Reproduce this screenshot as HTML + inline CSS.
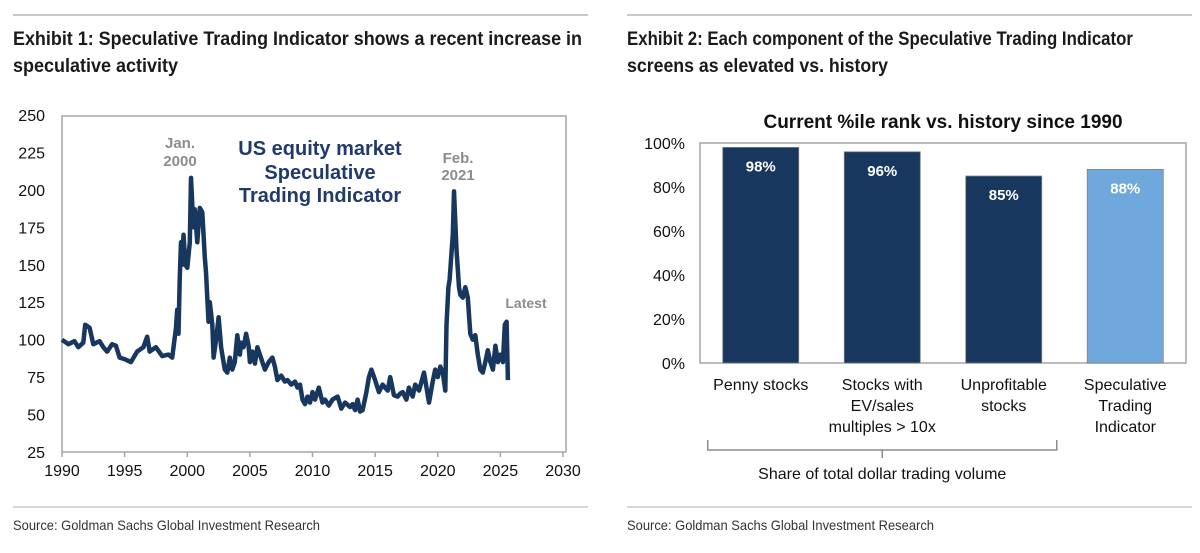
<!DOCTYPE html>
<html><head><meta charset="utf-8"><style>
html,body{margin:0;padding:0;background:#fff;}
svg{display:block;font-family:"Liberation Sans",Arial,sans-serif;}
</style></head><body>
<svg id="root" width="1200" height="553" viewBox="0 0 1200 553">
  <line x1="13" y1="15" x2="588" y2="15" stroke="#c8c8c8" stroke-width="2"/>
  <line x1="627" y1="15" x2="1192" y2="15" stroke="#c8c8c8" stroke-width="2"/>
  <text x="13" y="45" font-size="19" font-weight="bold" fill="#1a1a1a" textLength="569" lengthAdjust="spacingAndGlyphs">Exhibit 1: Speculative Trading Indicator shows a recent increase in</text>
  <text x="13" y="72" font-size="19" font-weight="bold" fill="#1a1a1a" textLength="165" lengthAdjust="spacingAndGlyphs">speculative activity</text>
  <text x="627" y="45" font-size="19" font-weight="bold" fill="#1a1a1a" textLength="506" lengthAdjust="spacingAndGlyphs">Exhibit 2: Each component of the Speculative Trading Indicator</text>
  <text x="627" y="72" font-size="19" font-weight="bold" fill="#1a1a1a" textLength="261" lengthAdjust="spacingAndGlyphs">screens as elevated vs. history</text>
  <line x1="13" y1="507" x2="588" y2="507" stroke="#c8c8c8" stroke-width="1.5"/>
  <line x1="627" y1="507" x2="1192" y2="507" stroke="#c8c8c8" stroke-width="1.5"/>
  <text x="13" y="530" font-size="14" fill="#333" textLength="307" lengthAdjust="spacingAndGlyphs">Source: Goldman Sachs Global Investment Research</text>
  <text x="627" y="530" font-size="14" fill="#333" textLength="307" lengthAdjust="spacingAndGlyphs">Source: Goldman Sachs Global Investment Research</text>

  <g id="lineChart"></g>
  <g id="barChart"></g>
</svg>
<script>
const NS="http://www.w3.org/2000/svg";
function mk(tag,attrs,parent,txt){const e=document.createElementNS(NS,tag);for(const k in attrs)e.setAttribute(k,attrs[k]);if(txt!==undefined)e.textContent=txt;parent.appendChild(e);return e;}

// ---- Exhibit 1 data ----
const years=[1990,1990.5,1991,1991.3,1991.7,1991.85,1992.2,1992.5,1993,1993.3,1993.6,1994,1994.3,1994.6,1995,1995.5,1996,1996.5,1996.8,1997,1997.5,1998,1998.5,1998.8,1999.1,1999.2,1999.3,1999.4,1999.5,1999.6,1999.7,1999.85,2000.0,2000.2,2000.3,2000.4,2000.5,2000.6,2000.8,2001,2001.2,2001.4,2001.5,2001.7,2001.8,2002,2002.1,2002.3,2002.5,2002.7,2002.8,2003,2003.2,2003.4,2003.6,2003.8,2004,2004.2,2004.3,2004.5,2004.7,2004.9,2005,2005.2,2005.4,2005.6,2006,2006.2,2006.5,2006.8,2007,2007.2,2007.5,2007.8,2008,2008.3,2008.6,2008.8,2009,2009.2,2009.4,2009.6,2009.8,2010,2010.2,2010.5,2010.8,2011,2011.3,2011.6,2012,2012.3,2012.6,2013,2013.2,2013.4,2013.6,2013.8,2014,2014.3,2014.5,2014.7,2015,2015.3,2015.6,2016,2016.2,2016.5,2016.8,2017,2017.2,2017.5,2017.7,2018,2018.2,2018.5,2018.7,2018.9,2019.1,2019.3,2019.6,2019.8,2020,2020.2,2020.4,2020.6,2020.7,2020.85,2020.95,2021.2,2021.3,2021.5,2021.7,2021.8,2022,2022.2,2022.4,2022.6,2022.8,2023,2023.2,2023.4,2023.6,2023.8,2024,2024.2,2024.4,2024.6,2024.8,2025.0,2025.2,2025.35,2025.5,2025.6];
const values=[100,97,99,95,98,110,108,97,99,95,92,97,96,88,87,85,92,95,102,92,95,89,90,88,108,120,104,140,165,150,170,150,148,165,208,190,175,187,165,188,185,155,145,112,125,110,88,100,115,95,90,80,78,88,80,85,103,90,98,95,104,96,85,92,84,95,85,80,85,88,82,73,76,72,73,70,72,68,70,60,57,62,58,65,60,68,58,60,56,60,62,54,58,55,57,53,60,52,53,65,75,80,73,65,70,66,75,63,62,64,65,60,68,62,70,66,72,78,68,58,72,80,75,82,78,66,110,135,140,170,199,160,135,130,128,135,128,104,100,103,90,80,78,85,93,85,80,96,85,90,85,110,112,73,110,113];
const yTicks=[25,50,75,100,125,150,175,200,225,250];
const xTicks=[1990,1995,2000,2005,2010,2015,2020,2025,2030];

const L={x0:62,x1:563,y0:452,y1:115};
const lx=v=>L.x0+(v-1990)/40*(L.x1-L.x0);
const ly=v=>L.y0-(v-25)/225*(L.y0-L.y1);
const lg=document.getElementById('lineChart');
const frame=mk('rect',{x:L.x0,y:116,width:566-L.x0,height:L.y0-116,fill:'none',stroke:'#a6a6a6','stroke-width':1.5},lg);


yTicks.forEach(t=>{
  const tx=mk('text',{x:45,y:ly(t)+6,'font-size':16,'text-anchor':'end',fill:'#111'},lg,String(t));
  
  
});
xTicks.forEach(t=>{
  const tk=mk('line',{x1:lx(t),x2:lx(t),y1:L.y0,y2:L.y0+5,stroke:'#a6a6a6','stroke-width':1.5},lg);
  
  
  const tx=mk('text',{x:lx(t),y:476,'font-size':16,'text-anchor':'middle',fill:'#111'},lg,String(t));
  
  
});
let d='';years.forEach((y,i)=>{d+=(i?'L':'M')+lx(y).toFixed(1)+','+ly(values[i]).toFixed(1);});
const path=mk('path',{d:d,fill:'none',stroke:'#17375e','stroke-width':4.5,'stroke-linejoin':'round'},lg);


[['US equity market',155],['Speculative',179],['Trading Indicator',202]].forEach(([s,y])=>{
  const t=mk('text',{x:320,y:y,'font-size':20,'font-weight':'bold','text-anchor':'middle',fill:'#1f3a6b'},lg,s);
  
  
});
[['Jan.',180,148,15],['2000',180,166,15],['Feb.',458,163,15],['2021',458,180,15],['Latest',526,308,14]].forEach(([s,x,y,f])=>{
  const t=mk('text',{x:x,y:y,'font-size':f,'font-weight':'bold','text-anchor':'middle',fill:'#8c8c8c'},lg,s);
  
  
});

// ---- Exhibit 2 data ----
const categories=[['Penny stocks'],['Stocks with','EV/sales','multiples > 10x'],['Unprofitable','stocks'],['Speculative','Trading','Indicator']];
const pctValues=[98,96,85,88];
const pctLabels=['98%','96%','85%','88%'];
const pctTicks=[0,20,40,60,80,100];

const B={x0:700,x1:1186,y0:363,y1:143};
const by=v=>B.y0-v/100*(B.y0-B.y1);
const band=(B.x1-B.x0)/categories.length;
const bx=i=>B.x0+band*(i+0.5);
const bg=document.getElementById('barChart');
const t0=mk('text',{x:943,y:128,'font-size':19,'font-weight':'bold','text-anchor':'middle',fill:'#111'},bg,'Current %ile rank vs. history since 1990');


const bf=mk('rect',{x:B.x0,y:B.y1,width:B.x1-B.x0,height:B.y0-B.y1,fill:'none',stroke:'#a6a6a6','stroke-width':1.5},bg);


pctTicks.forEach(t=>{
  const tx=mk('text',{x:685,y:by(t)+6,'font-size':16,'text-anchor':'end',fill:'#111'},bg,t+'%');
  
  
});
const bw=76;
pctValues.forEach((v,i)=>{
  const r=mk('rect',{x:bx(i)-bw/2,y:by(v),width:bw,height:B.y0-by(v),fill:i===3?'#6fa8dc':'#17375e',stroke:'#7f7f7f','stroke-width':0.8},bg);
  
  
  const lt=mk('text',{x:bx(i),y:by(v)+24,'font-size':15,'font-weight':'bold','text-anchor':'middle',fill:'#fff'},bg,pctLabels[i]);
  
  
  categories[i].forEach((s,j)=>{
    const c=mk('text',{x:bx(i),y:390+j*21,'font-size':16,'text-anchor':'middle',fill:'#111'},bg,s);
    
    
  });
});
const brL=bx(0)-53, brR=bx(2)+53, brM=bx(1);
const br=mk('path',{d:`M${brL},440 V450 H${brR} V440 M${brM},450 V458`,fill:'none',stroke:'#8c8c8c','stroke-width':1.5},bg);


const gl=mk('text',{x:brM,y:479,'font-size':16,'text-anchor':'middle',fill:'#111'},bg,'Share of total dollar trading volume');


</script>
</body></html>
